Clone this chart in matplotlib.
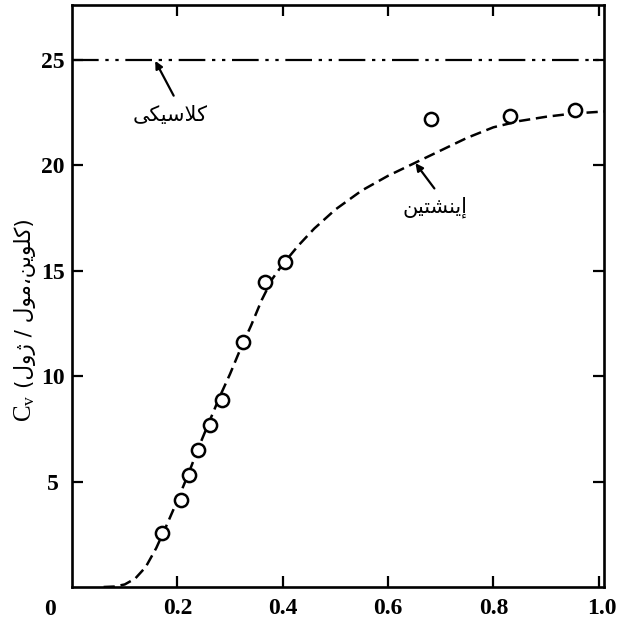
"""
Heat capacity of diamond: measured points vs Einstein model and the classical limit.
"""
import matplotlib as mpl
mpl.use('Agg')
import matplotlib.pyplot as plt
from matplotlib.transforms import ScaledTranslation

# measured points (T / theta_E, Cv in J/mol.K)
meas_x = [0.170, 0.207, 0.222, 0.239, 0.262, 0.285, 0.324, 0.367, 0.404, 0.682, 0.832, 0.955]
meas_y = [2.55, 4.13, 5.31, 6.50, 7.68, 8.87, 11.63, 14.45, 15.42, 22.19, 22.35, 22.62]

# Einstein curve
einstein_x = [0.06, 0.08, 0.10, 0.12, 0.14, 0.16, 0.18, 0.20, 0.22, 0.24, 0.26, 0.28,
              0.30, 0.32, 0.34, 0.36, 0.38, 0.40, 0.43, 0.46, 0.50, 0.55, 0.60, 0.65,
              0.70, 0.75, 0.80, 0.85, 0.90, 0.95, 1.01]
einstein_y = [0.0, 0.02, 0.12, 0.40, 0.95, 1.85, 2.95, 4.10, 5.30, 6.60, 7.80, 9.00,
              10.10, 11.30, 12.40, 13.60, 14.60, 15.30, 16.20, 17.00, 17.90, 18.80, 19.50, 20.10,
              20.70, 21.30, 21.80, 22.10, 22.30, 22.45, 22.55]

# classical (Dulong-Petit) limit
classical_x = [0.0, 1.01]
classical_y = [25.0, 25.0]

x_ticks = [0.2, 0.4, 0.6, 0.8, 1.0]
x_ticklabels = ['0.2', '0.4', '0.6', '0.8', '1.0']
y_ticks = [5, 10, 15, 20, 25]
y_ticklabels = ['5', '10', '15', '20', '25']

# Persian labels, written already shaped (presentation forms) in visual order
classic_label = "\uFBFD\uFB91\uFBFF\uFEB3\uFEFC\uFB90"            # classical
einstein_label = "\uFEE6\uFBFF\uFE98\uFEB8\uFEE8\uFBFE\uFE87"      # Einstein
unit_label = ("(" + "\uFEDD\uFEED\uFB8A" + " / " + "\uFEDD\uFEEE\uFEE3" + "\u060C"
              + "\uFEE6\uFBFE\uFEEE\uFEE0\uFB90" + ")")

plt.rcParams['mathtext.fontset'] = 'custom'
plt.rcParams['mathtext.rm'] = 'Liberation Serif'
plt.rcParams['mathtext.it'] = 'Liberation Serif:italic'

fig = plt.figure(figsize=(6.18, 6.24), dpi=100)
ax = fig.add_axes([72 / 618, 1 - 587 / 624, 532 / 618, 582 / 624])

ax.plot(classical_x, classical_y, color='black', lw=1.6,
        dashes=(12, 3, 1.5, 3, 1.5, 3))
ax.plot(einstein_x, einstein_y, color='black', lw=1.8, dashes=(4.5, 2.3))
ax.plot(meas_x, meas_y, 'o', ms=9.5, mfc='white', mec='black', mew=1.8)

ax.set_xlim(0, 1.01)
ax.set_ylim(0, 27.6)
ax.set_xticks(x_ticks)
ax.set_xticklabels(x_ticklabels)
ax.set_yticks(y_ticks)
ax.set_yticklabels(y_ticklabels)
ax.tick_params(direction='in', length=8, width=1.6, top=True, right=True,
               labelsize=17)
ax.tick_params(axis='x', pad=8)
ax.tick_params(axis='y', pad=14)
for lab in ax.get_xticklabels() + ax.get_yticklabels():
    lab.set_fontfamily('Liberation Serif')
    lab.set_fontweight('bold')
for lab in ax.get_yticklabels():
    lab.set_horizontalalignment('center')
# the last x label sits a little to the right of the frame corner
last = ax.get_xticklabels()[-1]
last.set_transform(last.get_transform() + ScaledTranslation(0.03, 0, fig.dpi_scale_trans))
for sp in ax.spines.values():
    sp.set_linewidth(1.9)

# shared origin label
ax.annotate('0', xy=(0, 0), xycoords='axes fraction', xytext=(-15.5, -16.5),
            textcoords='offset points', ha='center', va='center', fontsize=17,
            family='Liberation Serif', weight='bold')

# labelled arrows
arrow_kw = dict(arrowstyle='-|>', color='black', lw=1.6, mutation_scale=11,
                shrinkA=0, shrinkB=0)
ax.annotate('', xy=(0.158, 24.95), xytext=(0.193, 23.3), arrowprops=arrow_kw)
ax.text(0.187, 22.4, classic_label, ha='center', va='center', fontsize=15,
        family='DejaVu Sans')
ax.annotate('', xy=(0.652, 20.1), xytext=(0.688, 18.9), arrowprops=arrow_kw)
ax.text(0.690, 18.0, einstein_label, ha='center', va='center', fontsize=15,
        family='DejaVu Sans')

# y label: symbol and Persian unit drawn as two pieces
fig.text(25 / 618, 1 - 408 / 624, r"$\mathrm{C}_{\mathrm{v}}$",
         rotation=90, ha='center', va='center', fontsize=18)
fig.text(25 / 618, 1 - 388 / 624, unit_label,
         rotation=90, ha='center', va='bottom', fontsize=15.5,
         family='DejaVu Sans')

fig.savefig('out.png', dpi=100)
